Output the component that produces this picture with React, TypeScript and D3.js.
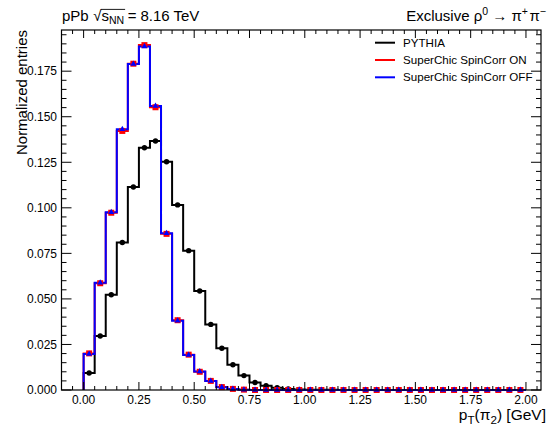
import React, { useEffect, useRef } from "react";
import * as d3 from "d3";

// ---- data ----
const BIN_WIDTH = 0.05;
const N_BINS = 40;
const pythia = [
  0.0093, 0.0296, 0.0523, 0.081, 0.1114, 0.133, 0.1367, 0.1253, 0.1016, 0.0765,
  0.0543, 0.036, 0.0229, 0.0139, 0.0079, 0.0041, 0.0024, 0.0013, 0.0006, 0.0003,
  0.0002, 0.0001, 0.0001, 0, 0, 0, 0, 0, 0, 0,
  0, 0, 0, 0, 0, 0, 0, 0, 0, 0,
];
const scOn = [
  0.0201, 0.0586, 0.0973, 0.1422, 0.1791, 0.1893, 0.1552, 0.0857, 0.0383, 0.0194,
  0.01, 0.005, 0.0016, 0.0006, 0.0002, 0, 0, 0, 0, 0,
  0, 0, 0, 0, 0, 0, 0, 0, 0, 0,
  0, 0, 0, 0, 0, 0, 0, 0, 0, 0,
];
const scOff = [
  0.0198, 0.0589, 0.0975, 0.1431, 0.1789, 0.1886, 0.1559, 0.086, 0.038, 0.0192,
  0.0101, 0.0049, 0.0015, 0.0005, 0.0002, 0, 0, 0, 0, 0,
  0, 0, 0, 0, 0, 0, 0, 0, 0, 0,
  0, 0, 0, 0, 0, 0, 0, 0, 0, 0,
];
const xTicks = [0, 0.25, 0.5, 0.75, 1.0, 1.25, 1.5, 1.75, 2.0];
const xTickLabels = ["0.00", "0.25", "0.50", "0.75", "1.00", "1.25", "1.50", "1.75", "2.00"];
const yTicks = [0, 0.025, 0.05, 0.075, 0.1, 0.125, 0.15, 0.175];
const yTickLabels = ["0.000", "0.025", "0.050", "0.075", "0.100", "0.125", "0.150", "0.175"];
const legendLabels = ["PYTHIA", "SuperChic SpinCorr ON", "SuperChic SpinCorr OFF"];
const seriesColors = ["#000000", "#ff0000", "#0000ff"];

const W = 548;
const H = 426;
const FONT = "'Liberation Sans', Arial, Helvetica, sans-serif";

type Piece = { t: string; scale?: number; dy?: number; gap?: number; id?: string };

function richText(
  parent: d3.Selection<SVGGElement, unknown, null, undefined>,
  pieces: Piece[],
  x: number,
  y: number,
  anchor: "start" | "end",
  fontSize: number
) {
  const grp = parent.append("g");
  let cx = 0;
  const pos: Record<string, [number, number]> = {};
  pieces.forEach((p) => {
    const t = grp
      .append("text")
      .attr("x", cx)
      .attr("y", p.dy || 0)
      .attr("font-size", fontSize * (p.scale || 1))
      .attr("font-family", FONT)
      .attr("fill", "#000")
      .text(p.t);
    const w = (t.node() as SVGTextElement).getComputedTextLength();
    if (p.id) pos[p.id] = [cx, cx + w];
    cx += w + (p.gap || 0) * fontSize;
  });
  const offset = anchor === "end" ? x - cx : x;
  grp.attr("transform", `translate(${offset},${y})`);
  return { grp, pos };
}

export default function App() {
  const ref = useRef<SVGSVGElement>(null);

  useEffect(() => {
    const svg = d3.select(ref.current);
    svg.selectAll("*").remove();
    const root = svg.append("g") as unknown as d3.Selection<SVGGElement, unknown, null, undefined>;

    const L = 61.5, R = 541, T = 30, B = 390;
    const x = d3.scaleLinear().domain([-0.1, 2.068]).range([L, R]);
    const y = d3.scaleLinear().domain([0, 0.1976]).range([B, T]);

    // histograms
    const stepPoints = (vals: number[]) => {
      const pts: [number, number][] = [[0, 0]];
      vals.forEach((v, i) => {
        pts.push([i * BIN_WIDTH, v]);
        pts.push([(i + 1) * BIN_WIDTH, v]);
      });
      pts.push([N_BINS * BIN_WIDTH, 0]);
      return pts;
    };
    const line = d3
      .line<[number, number]>()
      .x((d) => x(d[0]))
      .y((d) => y(d[1]));

    const all = [pythia, scOn, scOff];
    all.forEach((vals, k) => {
      root
        .append("path")
        .attr("d", line(stepPoints(vals)) as string)
        .attr("fill", "none")
        .attr("stroke", seriesColors[k])
        .attr("stroke-width", 2);
    });

    const centers = (vals: number[]) => vals.map((v, i) => [(i + 0.5) * BIN_WIDTH, v] as [number, number]);
    // black circles
    root
      .append("g")
      .selectAll("circle")
      .data(centers(pythia))
      .join("circle")
      .attr("cx", (d) => x(d[0]))
      .attr("cy", (d) => y(d[1]))
      .attr("r", 2.7)
      .attr("fill", "#000");
    // red squares
    root
      .append("g")
      .selectAll("rect")
      .data(centers(scOn))
      .join("rect")
      .attr("x", (d) => x(d[0]) - 3)
      .attr("y", (d) => y(d[1]) - 3)
      .attr("width", 6)
      .attr("height", 6)
      .attr("fill", "#ff0000");
    // blue triangles
    const tri = d3.symbol().type(d3.symbolTriangle).size(16);
    root
      .append("g")
      .selectAll("path")
      .data(centers(scOff))
      .join("path")
      .attr("transform", (d) => `translate(${x(d[0])},${y(d[1])})`)
      .attr("d", tri() as string)
      .attr("fill", "#0000ff");

    // frame
    root
      .append("rect")
      .attr("x", L)
      .attr("y", T)
      .attr("width", R - L)
      .attr("height", B - T)
      .attr("fill", "none")
      .attr("stroke", "#000")
      .attr("stroke-width", 1.2);

    // ticks
    const tg = root.append("g").attr("stroke", "#000").attr("stroke-width", 1);
    const xMinor = d3.range(-0.1, 2.06, 0.05).map((v) => Math.round(v * 100) / 100);
    xMinor.forEach((v) => {
      const major = xTicks.some((t) => Math.abs(t - v) < 1e-6);
      const len = major ? 8 : 4;
      const px = x(v);
      if (px < L + 0.5 || px > R - 0.5) return;
      tg.append("line").attr("x1", px).attr("x2", px).attr("y1", B).attr("y2", B - len);
      tg.append("line").attr("x1", px).attr("x2", px).attr("y1", T).attr("y2", T + len);
    });
    const yMinor = d3.range(0, 0.1976, 0.005).map((v) => Math.round(v * 1000) / 1000);
    yMinor.forEach((v) => {
      const major = yTicks.some((t) => Math.abs(t - v) < 1e-6);
      const len = major ? 10 : 5;
      const py = y(v);
      tg.append("line").attr("x1", L).attr("x2", L + len).attr("y1", py).attr("y2", py);
      tg.append("line").attr("x1", R).attr("x2", R - len).attr("y1", py).attr("y2", py);
    });

    // tick labels
    xTicks.forEach((v, i) => {
      root
        .append("text")
        .attr("x", x(v))
        .attr("y", 403.5)
        .attr("text-anchor", "middle")
        .attr("font-size", 12)
        .attr("font-family", FONT)
        .text(xTickLabels[i]);
    });
    yTicks.forEach((v, i) => {
      root
        .append("text")
        .attr("x", 57)
        .attr("y", y(v))
        .attr("dy", "0.36em")
        .attr("text-anchor", "end")
        .attr("font-size", 12)
        .attr("font-family", FONT)
        .text(yTickLabels[i]);
    });

    // axis titles
    richText(
      root,
      [
        { t: "p" },
        { t: "T", scale: 0.75, dy: 3.5 },
        { t: "(π" },
        { t: "2", scale: 0.75, dy: 3.5 },
        { t: ") [GeV]" },
      ],
      546,
      420,
      "end",
      15.5
    );
    root
      .append("text")
      .attr("transform", `translate(27,30) rotate(-90)`)
      .attr("text-anchor", "end")
      .attr("font-size", 15)
      .attr("font-family", FONT)
      .text("Normalized entries");

    // top titles
    const fs = 15;
    const lt = richText(
      root,
      [
        { t: "pPb", gap: 0.3 },
        { t: "√" },
        { t: "s", id: "s" },
        { t: "NN", scale: 0.7, dy: 3, id: "nn", gap: 0.25 },
        { t: "=", gap: 0.25 },
        { t: "8.16 TeV" },
      ],
      62,
      21,
      "start",
      fs
    );
    lt.grp
      .append("line")
      .attr("x1", lt.pos["s"][0] - 0.5)
      .attr("x2", lt.pos["nn"][1] + 1)
      .attr("y1", -11.6)
      .attr("y2", -11.6)
      .attr("stroke", "#000")
      .attr("stroke-width", 0.9);

    richText(
      root,
      [
        { t: "Exclusive ρ" },
        { t: "0", scale: 0.7, dy: -6, gap: 0.28 },
        { t: "→", gap: 0.28 },
        { t: "π" },
        { t: "+", scale: 0.7, dy: -6, gap: 0.1 },
        { t: "π" },
        { t: "−", scale: 0.7, dy: -6 },
      ],
      546,
      21,
      "end",
      fs
    );

    // legend
    const rows = [42.7, 60, 77.3];
    legendLabels.forEach((lab, i) => {
      root
        .append("line")
        .attr("x1", 375)
        .attr("x2", 395)
        .attr("y1", rows[i])
        .attr("y2", rows[i])
        .attr("stroke", seriesColors[i])
        .attr("stroke-width", 2);
      root
        .append("text")
        .attr("x", 403)
        .attr("y", rows[i])
        .attr("dy", "0.36em")
        .attr("font-size", 11.6)
        .attr("font-family", FONT)
        .text(lab);
    });
  }, []);

  return (
    <div style={{ position: "fixed", left: 0, top: 0, width: W, height: H, background: "#fff" }}>
      <svg ref={ref} width={W} height={H} style={{ display: "block" }} />
    </div>
  );
}
